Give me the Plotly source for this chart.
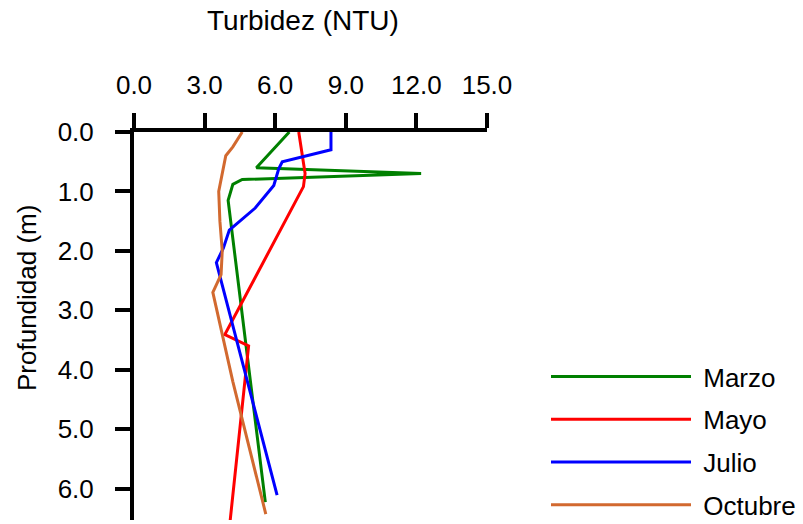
import plotly.graph_objects as go

# Data (turbidity NTU vs depth m)
marzo_x = [6.6, 5.2, 12.2, 4.6, 4.2, 4.0, 5.58]
marzo_y = [0.0, 0.6, 0.7, 0.8, 0.88, 1.15, 6.23]

mayo_x = [7.0, 7.27, 7.2, 3.86, 4.87, 4.03]
mayo_y = [0.0, 0.7, 0.92, 3.41, 3.6, 6.75]

julio_x = [8.37, 8.37, 6.3, 6.15, 5.94, 5.15, 4.05, 3.8, 3.5, 6.08]
julio_y = [0.0, 0.3, 0.5, 0.62, 0.9, 1.28, 1.65, 1.95, 2.2, 6.11]

octubre_x = [4.6, 4.2, 3.9, 3.75, 3.6, 3.65, 3.75, 3.7, 3.35, 4.2, 5.6]
octubre_y = [0.0, 0.25, 0.4, 0.7, 1.0, 1.5, 2.0, 2.4, 2.7, 4.2, 6.43]

series = [
    ("Marzo", marzo_x, marzo_y, "#008000"),
    ("Mayo", mayo_x, mayo_y, "#FF0000"),
    ("Julio", julio_x, julio_y, "#0000FF"),
    ("Octubre", octubre_x, octubre_y, "#D2692F"),
]

x_ticks = [0, 3, 6, 9, 12, 15]
y_ticks = [0, 1, 2, 3, 4, 5, 6]

FONT = "Liberation Sans, Arial, sans-serif"

fig = go.Figure()
for name, xs, ys, col in series:
    fig.add_trace(go.Scatter(x=xs, y=ys, mode="lines", name="\u00a0" + name,
                             legendgroup=name,
                             line=dict(color=col, width=3)))

W, H = 803, 524
L, R, T, B = 134, 316, 132, 4
pw, ph = W - L - R, H - T - B

def px2paper(px, py):
    return (px - L) / pw, (H - B - py) / ph

fig.update_layout(
    width=W, height=H,
    margin=dict(l=L, r=R, t=T, b=B, pad=0, autoexpand=False),
    paper_bgcolor="white", plot_bgcolor="white",
    font=dict(family=FONT, size=26, color="black"),
    showlegend=True,
    legend=dict(x=px2paper(546, 0)[0], y=px2paper(0, 353)[1],
                xanchor="left", yanchor="top",
                itemwidth=140, tracegroupgap=6,
                font=dict(size=26, family=FONT, color="black"),
                bgcolor="rgba(0,0,0,0)"),
    xaxis=dict(side="top", range=[0, 15], tickvals=x_ticks,
               tickformat=".1f", showline=True, linecolor="black",
               linewidth=4, ticks="outside", ticklen=15, tickwidth=4,
               tickcolor="black", showgrid=False, zeroline=False,
               ticklabelstandoff=9,
               tickfont=dict(size=26, family=FONT, color="black")),
    yaxis=dict(range=[6.53, 0], tickvals=y_ticks, tickformat=".1f",
               showline=True, linecolor="black", linewidth=4,
               ticks="outside", ticklen=15, tickwidth=4, tickcolor="black",
               showgrid=False, zeroline=False, ticklabelstandoff=16,
               tickfont=dict(size=26, family=FONT, color="black")),
)

tx, ty = px2paper(303, 21)
fig.add_annotation(text="Turbidez (NTU)", x=tx, y=ty, xref="paper", yref="paper",
                   showarrow=False, xanchor="center", yanchor="middle",
                   font=dict(size=28, family=FONT, color="black"))
yx, yy = px2paper(27, 298)
fig.add_annotation(text="Profundidad (m)", x=yx, y=yy, xref="paper", yref="paper",
                   showarrow=False, xanchor="center", yanchor="middle", textangle=-90,
                   font=dict(size=26, family=FONT, color="black"))

fig.write_html("out.html")
